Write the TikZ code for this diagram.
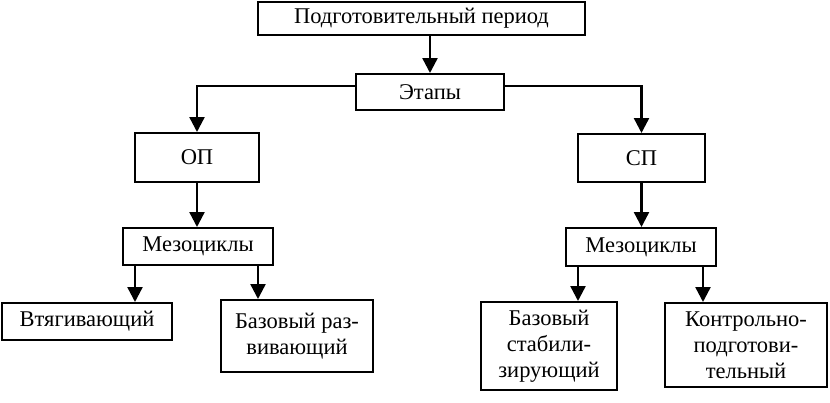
\documentclass[tikz,border=0pt]{standalone}
\usepackage{fontspec}
\setmainfont{Liberation Serif}
\usetikzlibrary{arrows.meta}
\begin{document}
\begin{tikzpicture}[x=1pt,y=-1pt,
  box/.style={draw, line width=2pt, inner sep=0pt, align=center, font=\fontsize{22.5}{26}\selectfont},
  arr/.style={line width=2.4pt, -{Triangle[length=15pt,width=15pt]}},
  conn/.style={line width=2.4pt}]
\useasboundingbox (0,0) rectangle (830,402);
\fill[white] (0,0) rectangle (830,402);
\node[box, minimum width=327pt, minimum height=33pt] (top) at (421.5,18.5) {Подготовительный период};
\node[box, minimum width=148pt, minimum height=36pt] (etapy) at (430,92) {Этапы};
\node[box, minimum width=124pt, minimum height=49pt] (op) at (197,157.5) {ОП};
\node[box, minimum width=127pt, minimum height=48pt] (sp) at (641.5,158) {СП};
\node[box, minimum width=150pt, minimum height=37pt] (mezoL) at (198,246.5) {Мезоциклы};
\node[box, minimum width=150pt, minimum height=38pt] (mezoR) at (641,247) {Мезоциклы};
\node[box, minimum width=170pt, minimum height=37pt] (vtyag) at (87,321.5) {Втягивающий};
\node[box, minimum width=152pt, minimum height=72pt] (razv) at (297,336) {Базовый раз-\\вивающий};
\node[box, minimum width=136pt, minimum height=88pt] (stab) at (549,346) {Базовый\\стабили-\\зирующий};
\node[box, minimum width=162pt, minimum height=84pt] (kontr) at (746,345) {Контрольно-\\подготови-\\тельный};
\coordinate (xa) at (135,0);
\coordinate (xb) at (258,0);
\coordinate (xc) at (578,0);
\coordinate (xd) at (703,0);
\draw[arr] (top.south -| etapy.north) -- (etapy.north);
\draw[arr] ([yshift=6pt]etapy.west) -| (op.north);
\draw[arr] ([yshift=6pt]etapy.east) -| (sp.north);
\draw[arr] (op.south) -- (op.south |- mezoL.north);
\draw[arr] (sp.south) -- (sp.south |- mezoR.north);
\draw[arr] (mezoL.south -| xa) -- (vtyag.north -| xa);
\draw[arr] (mezoL.south -| xb) -- (razv.north -| xb);
\draw[arr] (mezoR.south -| xc) -- (stab.north -| xc);
\draw[arr] (mezoR.south -| xd) -- (kontr.north -| xd);
\end{tikzpicture}
\end{document}
